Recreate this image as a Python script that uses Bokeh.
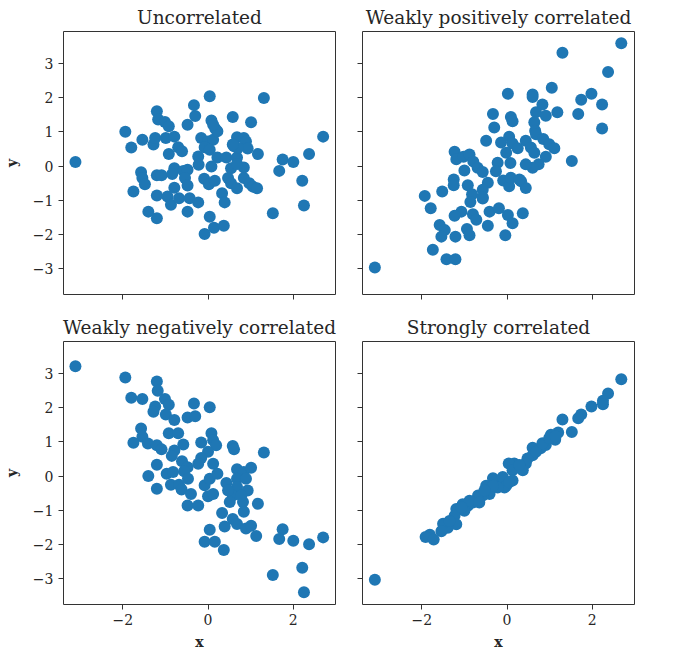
from bokeh.plotting import figure
from bokeh.layouts import column, row
from bokeh.models import Range1d, FixedTicker, CustomJSTickFormatter
from bokeh.embed import file_html
from bokeh.resources import INLINE

# ---------------- data ----------------
titles = ["Uncorrelated", "Weakly positively correlated",
          "Weakly negatively correlated", "Strongly correlated"]
x_ticks = [-2, 0, 2]
y_ticks = [-3, -2, -1, 0, 1, 2, 3]

uncorr_x = [-3.11, -1.94, -1.80, -1.54, -1.28, -1.24, -1.20, -1.17, -1.01, -0.92,
            -0.99, -0.79, -0.92, -0.70, -0.61, -0.48, -0.33, -0.30, 0.04, 0.08,
            0.17, -0.16, 0.00, 0.12, -0.08, 0.04, -0.23, 0.22, 0.43, 0.58,
            1.01, 1.31, 0.68, 0.84, 0.61, 0.89, 0.93, 0.68, 1.17, 1.75,
            2.00, 2.37, 2.70, 1.67, 2.21, 2.25, 1.52, -1.57, -1.54, -1.48,
            -1.75, -1.20, -1.09, -0.79, -0.84, -0.58, -0.48, -0.54, -0.48, -0.79,
            -1.20, -0.95, -0.87, -0.68, -0.43, -0.23, -0.48, -1.40, -1.20, -0.22,
            0.08, -0.09, 0.02, 0.16, 0.33, 0.39, 0.54, 0.47, 0.54, 0.68,
            0.84, 0.84, 0.97, 1.05, 1.15, 0.04, 0.14, 0.37, -0.08, 0.68,
            0.70, 0.58, 0.22, 0.12]
uncorr_y = [0.12, 1.00, 0.54, 0.77, 0.63, 0.82, 1.60, 1.36, 1.29, 1.16,
            0.82, 0.86, 0.35, 0.55, 0.43, 1.21, 1.78, 1.46, 2.04, 1.33,
            1.09, 0.82, 0.72, 0.77, 0.55, 0.48, 0.28, 0.25, 0.25, 1.43,
            1.28, 1.99, 0.84, 0.82, 0.58, 0.72, 0.51, 0.25, 0.35, 0.19,
            0.12, 0.35, 0.86, -0.14, -0.43, -1.15, -1.38, -0.18, -0.35, -0.53,
            -0.74, -0.27, -0.27, -0.06, -0.23, -0.14, -0.11, -0.35, -0.57, -0.63,
            -0.86, -0.89, -1.13, -0.94, -0.94, -1.06, -1.33, -1.33, -1.52, 0.04,
            -0.01, -0.37, -0.53, -0.43, -0.79, -1.06, -0.06, -0.35, -0.50, -0.65,
            -0.04, -0.35, -0.50, -0.60, -0.65, -1.48, -1.80, -1.74, -1.98, 0.06,
            0.53, 0.63, 1.02, 1.21]

weakpos_x = [-3.10, 2.68, 1.30, 2.37, 1.98, 1.74, 2.23, 1.67, 2.23, 1.52,
             1.05, 0.60, 0.60, 0.02, 0.83, 0.68, 0.91, 1.18, 0.64, 0.66,
             0.68, 0.85, 0.99, 1.11, 0.91, 0.74, 0.60, 0.44, 0.44, 0.56,
             0.64, 0.09, 0.13, 0.05, 0.13, 0.25, -0.14, -0.02, 0.08, -0.33,
             -0.30, -0.49, -0.22, -0.26, -0.09, 0.05, 0.09, 0.33, 0.44, 0.37,
             0.02, 0.13, -0.04, -1.23, -1.19, -1.02, -0.88, -0.79, -0.69, -0.57,
             -1.00, -1.25, -1.25, -0.92, -0.45, -0.57, -0.82, -0.57, -0.86, -1.93,
             -1.52, -1.79, -1.07, -1.23, -0.80, -0.72, -0.45, -0.41, -0.19, -0.94,
             -0.88, -1.58, -1.46, -1.54, -1.21, -1.74, -1.42, -1.21, -0.57, 0.29]
weakpos_y = [-2.96, 3.59, 3.31, 2.75, 2.11, 1.94, 1.80, 1.52, 1.10, 0.15,
             2.29, 2.09, 2.02, 2.11, 1.80, 1.57, 1.47, 1.57, 1.28, 1.03,
             0.93, 0.79, 0.64, 0.52, 0.27, 0.05, -0.05, 0.05, 0.74, 0.54,
             0.39, 1.43, 1.31, 0.86, 0.66, 0.52, 0.69, 0.39, 0.09, 1.52,
             1.13, 0.74, 0.10, -0.15, -0.42, -0.59, -0.34, -0.44, -0.64, -1.38,
             -1.43, -1.67, -2.02, 0.42, 0.20, 0.27, 0.34, 0.13, -0.05, -0.17,
             -0.13, -0.39, -0.56, -0.56, -0.49, -0.69, -0.82, -0.95, -1.05, -0.87,
             -0.74, -1.23, -1.33, -1.45, -1.41, -1.57, -1.74, -1.33, -1.23, -1.84,
             -2.02, -1.72, -1.87, -2.06, -2.06, -2.44, -2.72, -2.72, -0.91, -0.39]

weakneg_x = [-3.11, -1.94, -1.20, -1.18, -1.80, -1.54, -1.01, -0.92, -1.24, -1.28,
             -0.99, -0.79, -0.33, 0.04, -0.48, -0.30, -1.57, -1.54, -1.75, -1.41,
             -1.20, -1.09, -0.92, -0.70, -0.79, -0.85, -0.58, -0.16, 0.08, 0.12,
             0.19, 0.00, -0.16, -0.23, 0.12, -0.61, -0.48, -1.20, -1.40, -0.97,
             -0.82, -0.56, -0.47, -1.20, -0.87, -0.68, -0.62, -0.40, -0.48, -0.23,
             0.00, 0.12, -0.08, 0.04, 0.22, 0.58, 0.61, 1.31, 0.68, 0.84,
             1.01, 0.43, 0.68, 0.89, 0.93, 0.68, 0.58, 0.51, 0.82, 0.84,
             1.17, 0.33, 0.58, 0.68, 0.89, 1.01, 1.13, 0.39, 0.04, -0.08,
             0.16, 0.37, 1.75, 1.67, 2.00, 2.37, 2.70, 1.52, 2.21, 2.25,
             0.47, 0.78]
weakneg_y = [3.21, 2.88, 2.76, 2.49, 2.29, 2.25, 2.25, 2.08, 2.03, 1.88,
             1.80, 1.64, 2.12, 2.01, 1.71, 1.75, 1.39, 1.15, 0.97, 0.95,
             0.90, 0.78, 1.25, 1.25, 0.75, 0.59, 0.92, 0.98, 1.25, 1.05,
             0.90, 0.71, 0.53, 0.36, 0.36, 0.43, 0.26, 0.33, 0.00, 0.07,
             0.12, 0.14, -0.08, -0.37, -0.25, -0.25, -0.39, -0.52, -0.86, -0.86,
             -0.59, -0.52, -0.27, -0.08, 0.07, 0.88, 0.78, 0.69, 0.20, 0.12,
             0.24, -0.20, -0.08, -0.08, -0.42, -0.32, -0.57, -0.76, -0.76, -1.04,
             -0.81, -1.08, -1.25, -1.40, -1.53, -1.45, -1.75, -1.47, -1.57, -1.92,
             -1.92, -2.16, -1.55, -1.84, -1.89, -1.99, -1.79, -2.89, -2.68, -3.39,
             -0.42, -0.57]

strong_x = [-3.10, 2.68, 2.37, 2.25, 2.25, 1.98, 1.74, 1.67, 1.30, 1.52,
            1.20, 1.03, 1.13, 0.91, 0.79, 0.60, 0.60, 0.48, 0.44, 0.37,
            0.17, 0.04, 0.13, 0.13, -0.06, -0.18, -0.33, -0.49, -0.41, -0.57,
            -0.68, -0.80, -0.92, -1.04, -1.00, -1.19, -1.23, -1.19, -1.39, -1.50,
            -1.54, -1.81, -1.91, -1.72, -0.10, -0.02, 0.05, -0.22, 0.29, 0.68,
            0.83, 0.99, 1.14, -0.68, -0.88, -1.07, -1.35, -0.33, -0.53, -0.65]
strong_y = [-3.03, 2.83, 2.41, 2.20, 2.10, 2.03, 1.80, 1.69, 1.65, 1.29,
            1.27, 1.21, 1.06, 0.91, 0.81, 0.83, 0.61, 0.51, 0.37, 0.17,
            0.37, 0.37, 0.17, -0.13, -0.33, -0.18, -0.06, -0.28, -0.52, -0.57,
            -0.67, -0.77, -0.87, -0.82, -1.01, -0.96, -1.16, -1.41, -1.51, -1.39,
            -1.61, -1.71, -1.78, -1.85, -0.03, -0.28, -0.18, -0.33, 0.32, 0.71,
            0.96, 1.11, 1.16, -0.57, -0.72, -0.92, -1.31, -0.28, -0.42, -0.77]

# ---------------- styling ----------------
FONT = "DejaVu Serif"
TEXT = "#262626"
DOT = "#1f77b4"

x_range = Range1d(-3.39, 2.99)
y_range = Range1d(-3.75, 3.93)

num_fmt = CustomJSTickFormatter(code="return tick < 0 ? '\\u2212' + Math.abs(tick) : String(tick);")


def make(title, xs, ys, show_ylab, show_xlab, w, h, bl, br, bt, bb):
    p = figure(width=w, height=h, x_range=x_range, y_range=y_range,
               output_backend="svg", toolbar_location=None,
               min_border_left=bl, min_border_right=br,
               min_border_top=bt, min_border_bottom=bb, title=title)
    p.title.text_font = FONT
    p.title.text_font_size = "18.5px"
    p.title.text_font_style = "normal"
    p.title.text_color = TEXT
    p.title.align = "center"
    p.title.standoff = 8
    p.grid.visible = False
    p.outline_line_color = "#333333"
    p.outline_line_width = 1
    p.outline_line_alpha = 1.0
    p.background_fill_color = "white"
    p.border_fill_color = "white"
    for ax, ticks in ((p.xaxis[0], x_ticks), (p.yaxis[0], y_ticks)):
        ax.ticker = FixedTicker(ticks=ticks)
        ax.axis_line_color = None
        ax.major_tick_line_color = "#333333"
        ax.major_tick_out = 5
        ax.major_tick_in = 0
        ax.minor_tick_line_color = None
        ax.major_label_text_font = FONT
        ax.major_label_text_font_size = "14px"
        ax.major_label_text_color = TEXT
        ax.axis_label_text_font = FONT
        ax.axis_label_text_font_size = "14px"
        ax.axis_label_text_font_style = "bold"
        ax.axis_label_text_color = TEXT
    if show_ylab:
        p.yaxis[0].formatter = num_fmt
        p.yaxis[0].axis_label = "y"
        p.yaxis[0].major_label_standoff = 5
        p.yaxis[0].axis_label_standoff = 10
    else:
        p.yaxis[0].formatter = CustomJSTickFormatter(code="return '';")
        p.yaxis[0].major_label_standoff = 0
    if show_xlab:
        p.xaxis[0].formatter = num_fmt
        p.xaxis[0].axis_label = "x"
        p.xaxis[0].major_label_standoff = 4
        p.xaxis[0].axis_label_standoff = 6
    else:
        p.xaxis[0].formatter = CustomJSTickFormatter(code="return '';")
        p.xaxis[0].major_label_standoff = 0
    p.scatter(xs, ys, size=12, fill_color=DOT, line_color=None, fill_alpha=1.0)
    return p


# left column: frame x 61..335 ; right column: frame x 362..634
tl = make(titles[0], uncorr_x, uncorr_y, True, False, 341, 304, 61, 6, 31, 10)
tr = make(titles[1], weakpos_x, weakpos_y, False, False, 301, 304, 21, 8, 31, 10)
bl = make(titles[2], weakneg_x, weakneg_y, True, True, 341, 350, 61, 6, 37, 50)
br = make(titles[3], strong_x, strong_y, False, True, 301, 350, 21, 8, 37, 50)

layout = column(row(tl, tr), row(bl, br))

with open("out.html", "w") as f:
    f.write(file_html(layout, INLINE))
